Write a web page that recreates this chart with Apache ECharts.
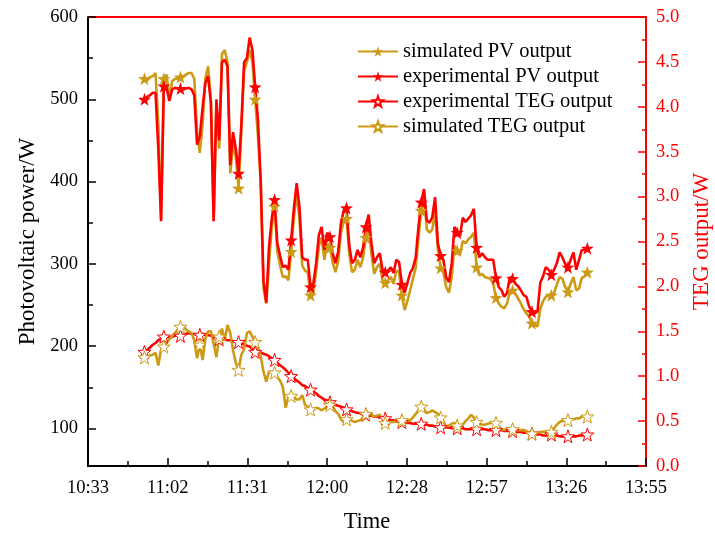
<!DOCTYPE html>
<html>
<head>
<meta charset="utf-8">
<script src="https://cdn.jsdelivr.net/npm/echarts@6/dist/echarts.min.js"></script>
<style>
html,body{margin:0;padding:0;background:#fff;overflow:hidden;}
#chart{width:715px;height:533px;}
</style>
</head>
<body>
<div id="chart"></div>
<script>
// time in minutes after midnight
var timeMin = [654,655,656,657,658,659,660,661,662,663,664,665,666,667,668,669,670,671,672,673,674,675,676,677,678,679,680,681,682,683,684,685,686,687,688,689,690,691,692,693,694,695,696,697,698,699,700,701,702,703,704,705,706,707,708,709,710,711,712,713,714,715,716,717,718,719,720,721,722,723,724,725,726,727,728,729,730,731,732,733,734,735,736,737,738,739,740,741,742,743,744,745,746,747,748,749,750,751,752,753,754,755,756,757,758,759,760,761,762,763,764,765,766,767,768,769,770,771,772,773,774,775,776,777,778,779,780,781,782,783,784,785,786,787,788,789,790,791,792,793,794,795,796,797,798,799,800,801,802,803,804,805,806,807,808,809,810,811,812,813,814];

var simPV = [525,523,527,528,532,470,355,525,530,500,
522,525,525,527,528,530,532,532,525,460,
435,470,525,540,500,352,495,440,555,560,
545,410,445,430,392,460,535,545,560,545,
500,455,400,270,252,300,345,370,315,298,
284,285,280,315,357,385,355,298,292,290,
262,265,290,322,332,305,325,320,302,290,
303,338,352,355,312,290,293,305,296,308,
332,345,312,288,296,300,280,277,280,284,
276,292,290,262,244,255,268,282,295,332,
365,384,342,338,342,365,318,295,290,272,
265,284,322,316,311,328,325,330,333,338,
296,286,288,284,283,282,276,259,252,248,
246,252,266,268,264,258,252,245,240,236,
228,226,224,245,255,260,262,262,265,275,
284,282,272,266,276,284,268,270,283,285,
290];

var expPV = [500,503,505,508,508,440,352,516,514,498,
512,514,513,513,512,513,514,512,505,445,
455,490,520,528,495,352,500,450,545,548,
540,420,460,440,410,470,545,550,575,560,
515,475,400,280,253,321,355,378,325,310,
296,298,293,329,368,398,369,308,305,305,
272,276,300,335,345,317,338,333,313,301,
315,350,365,368,322,301,305,317,308,320,
345,360,325,301,308,313,293,290,292,296,
289,305,302,275,265,277,289,295,308,345,
375,391,353,350,357,381,325,310,305,284,
278,300,345,338,334,356,351,355,359,367,
320,308,313,308,305,305,305,283,272,268,
260,265,284,282,276,273,268,262,260,248,
242,240,242,277,285,296,293,287,293,301,
314,308,300,296,305,314,293,305,317,317,
319];

var expTEG = [1.27,1.29,1.32,1.35,1.37,1.40,1.42,1.44,1.44,1.43,
1.44,1.45,1.46,1.45,1.46,1.47,1.48,1.47,1.47,1.46,
1.46,1.47,1.46,1.46,1.45,1.45,1.43,1.41,1.42,1.41,
1.40,1.40,1.39,1.38,1.38,1.37,1.35,1.34,1.33,1.30,
1.27,1.27,1.26,1.25,1.24,1.22,1.20,1.18,1.15,1.12,
1.10,1.07,1.04,1.00,0.98,0.95,0.93,0.90,0.89,0.87,
0.85,0.83,0.81,0.78,0.76,0.74,0.73,0.71,0.69,0.68,
0.67,0.66,0.65,0.63,0.62,0.61,0.60,0.59,0.59,0.58,
0.57,0.56,0.56,0.55,0.55,0.54,0.54,0.53,0.52,0.51,
0.51,0.50,0.50,0.49,0.49,0.48,0.48,0.47,0.47,0.47,
0.47,0.46,0.46,0.45,0.45,0.44,0.44,0.43,0.43,0.43,
0.43,0.42,0.42,0.42,0.42,0.42,0.41,0.41,0.41,0.41,
0.41,0.41,0.41,0.41,0.40,0.40,0.40,0.40,0.40,0.40,
0.39,0.39,0.39,0.39,0.38,0.38,0.38,0.37,0.37,0.37,
0.36,0.36,0.35,0.35,0.34,0.34,0.34,0.35,0.34,0.34,
0.33,0.33,0.33,0.33,0.33,0.33,0.33,0.34,0.34,0.34,
0.35];

var simTEG = [1.21,1.22,1.23,1.24,1.26,1.12,1.30,1.33,1.37,1.41,
1.45,1.48,1.52,1.55,1.56,1.52,1.50,1.48,1.40,1.20,
1.35,1.18,1.42,1.50,1.50,1.36,1.21,1.44,1.53,1.40,
1.57,1.48,1.29,1.15,1.07,1.24,1.30,1.48,1.50,1.44,
1.38,1.33,1.22,1.05,0.94,1.05,1.05,1.04,0.99,0.95,
0.88,0.65,0.77,0.78,0.77,0.74,0.74,0.79,0.68,0.66,
0.63,0.62,0.65,0.64,0.62,0.64,0.66,0.68,0.66,0.61,
0.58,0.52,0.49,0.52,0.53,0.50,0.49,0.50,0.51,0.54,
0.58,0.59,0.57,0.55,0.56,0.57,0.53,0.48,0.48,0.49,
0.49,0.50,0.51,0.51,0.48,0.50,0.51,0.54,0.58,0.62,
0.66,0.63,0.59,0.60,0.62,0.60,0.58,0.54,0.50,0.44,
0.45,0.47,0.48,0.45,0.43,0.46,0.50,0.53,0.57,0.54,
0.49,0.47,0.46,0.46,0.47,0.48,0.48,0.48,0.44,0.41,
0.40,0.42,0.42,0.41,0.40,0.40,0.40,0.40,0.39,0.37,
0.36,0.36,0.37,0.38,0.38,0.38,0.38,0.38,0.42,0.46,
0.49,0.50,0.51,0.51,0.52,0.52,0.53,0.53,0.55,0.55,
0.55];

// indices of points that carry a star marker
var tegMarkerIdx = [0,7,13,20,27,34,40,47,53,60,67,73,80,87,93,100,107,113,120,127,133,140,147,153,160];
var pvMarkerIdx = [0,7,13,34,40,47,53,60,67,73,80,87,93,100,107,113,120,127,133,140,147,153,160];

var xTickLabels = ['10:33','11:02','11:31','12:00','12:28','12:57','13:26','13:55'];
var pvTickValues = [100,200,300,400,500,600];
var pvMinorValues = [150,250,350,450,550];
var seriesNames = ['simulated PV output','experimental PV output','experimental TEG output','simulated TEG output'];

var GOLD = '#CC9A14';
var RED = '#FF0000';
var FONT = 'Liberation Serif';
var STAR = 'path://M0,-10 L2.35,-3.24 L9.51,-3.09 L3.8,1.24 L5.88,8.09 L0,4 L-5.88,8.09 L-3.8,1.24 L-9.51,-3.09 L-2.35,-3.24 Z';

function buildData(vals, marks){
  return vals.map(function(v, i){
    var item = {value: [timeMin[i], v]};
    if (marks.indexOf(i) < 0) item.symbol = 'none';
    return item;
  });
}

var chart = echarts.init(document.getElementById('chart'), null, {renderer:'canvas'});
var xMin = 633.6, xStep = 28.8, xMax = 835.2;

function mkSeries(name, vals, marks, color, yIdx, hollow){
  return {
    name: name, type: 'line', yAxisIndex: yIdx,
    data: buildData(vals, marks),
    symbol: STAR, symbolSize: 13, showAllSymbol: true,
    lineStyle: {color: color, width: 2.6},
    itemStyle: hollow ? {color: '#ffffff', borderColor: color, borderWidth: 1} : {color: color, borderWidth: 0},
    emphasis: {disabled: true},
    animation: false, z: 3
  };
}

var option = {
  animation: false,
  backgroundColor: '#ffffff',
  textStyle: {fontFamily: FONT},
  grid: {left: 88, right: 69, top: 17, bottom: 67, containLabel: false, outerBoundsMode: 'none'},
  legend: {
    data: seriesNames,
    orient: 'vertical',
    left: 352, top: 36,
    itemWidth: 40, itemHeight: 13, itemGap: 4,
    textStyle: {fontFamily: FONT, fontSize: 20.5, color: '#000'}
  },
  xAxis: [{
    type: 'value', min: xMin, max: xMax, interval: xStep,
    name: 'Time', nameLocation: 'middle', nameGap: 45,
    nameTextStyle: {fontFamily: FONT, fontSize: 22.5, color: '#000'},
    axisLine: {show: true, lineStyle: {color: '#000', width: 2}},
    axisTick: {show: true, inside: true, length: 8, lineStyle: {color: '#000', width: 1.5}},
    minorTick: {show: true, splitNumber: 2, length: 5, lineStyle: {color: '#000', width: 1.5}},
    axisLabel: {fontFamily: FONT, fontSize: 18.5, color: '#000', margin: 13,
      formatter: function(v){ return xTickLabels[Math.round((v - xMin) / xStep)] || ''; }},
    splitLine: {show: false}
  }, {
    type: 'value', min: xMin, max: xMax, position: 'top',
    axisLine: {show: true, lineStyle: {color: RED, width: 2}},
    axisTick: {show: false}, axisLabel: {show: false}, splitLine: {show: false}
  }],
  yAxis: [{
    type: 'value', min: 54.5, max: 600, position: 'left',
    name: 'Photovoltaic power/W', nameLocation: 'middle', nameGap: 49, nameRotate: 90,
    nameTextStyle: {fontFamily: FONT, fontSize: 23, color: '#000'},
    axisLine: {show: true, lineStyle: {color: '#000', width: 2}},
    axisTick: {show: true, inside: true, length: 8, customValues: pvTickValues, lineStyle: {color: '#000', width: 1.5}},
    axisLabel: {fontFamily: FONT, fontSize: 18.5, color: '#000', margin: 10, customValues: pvTickValues},
    splitLine: {show: false}
  }, {
    type: 'value', min: 0, max: 5, interval: 0.5, position: 'right',
    name: 'TEG output/W', nameLocation: 'middle', nameGap: 44, nameRotate: 90,
    nameTextStyle: {fontFamily: FONT, fontSize: 23, color: RED},
    axisLine: {show: true, lineStyle: {color: RED, width: 2}},
    axisTick: {show: true, inside: true, length: 8, lineStyle: {color: RED, width: 1.5}},
    minorTick: {show: true, splitNumber: 2, length: 4, lineStyle: {color: RED, width: 1.5}},
    axisLabel: {fontFamily: FONT, fontSize: 18.5, color: RED, margin: 10,
      formatter: function(v){ return v.toFixed(1); }},
    splitLine: {show: false}
  }, {
    type: 'value', min: 54.5, max: 600, position: 'left',
    axisLine: {show: false},
    axisTick: {show: true, inside: true, length: 5, customValues: pvMinorValues, lineStyle: {color: '#000', width: 1.5}},
    axisLabel: {show: false}, splitLine: {show: false}
  }],
  series: [
    mkSeries(seriesNames[0], simPV, pvMarkerIdx, GOLD, 0, false),
    mkSeries(seriesNames[1], expPV, pvMarkerIdx, RED, 0, false),
    mkSeries(seriesNames[2], expTEG, tegMarkerIdx, RED, 1, true),
    mkSeries(seriesNames[3], simTEG, tegMarkerIdx, GOLD, 1, true)
  ]
};
chart.setOption(option);
</script>
</body>
</html>
